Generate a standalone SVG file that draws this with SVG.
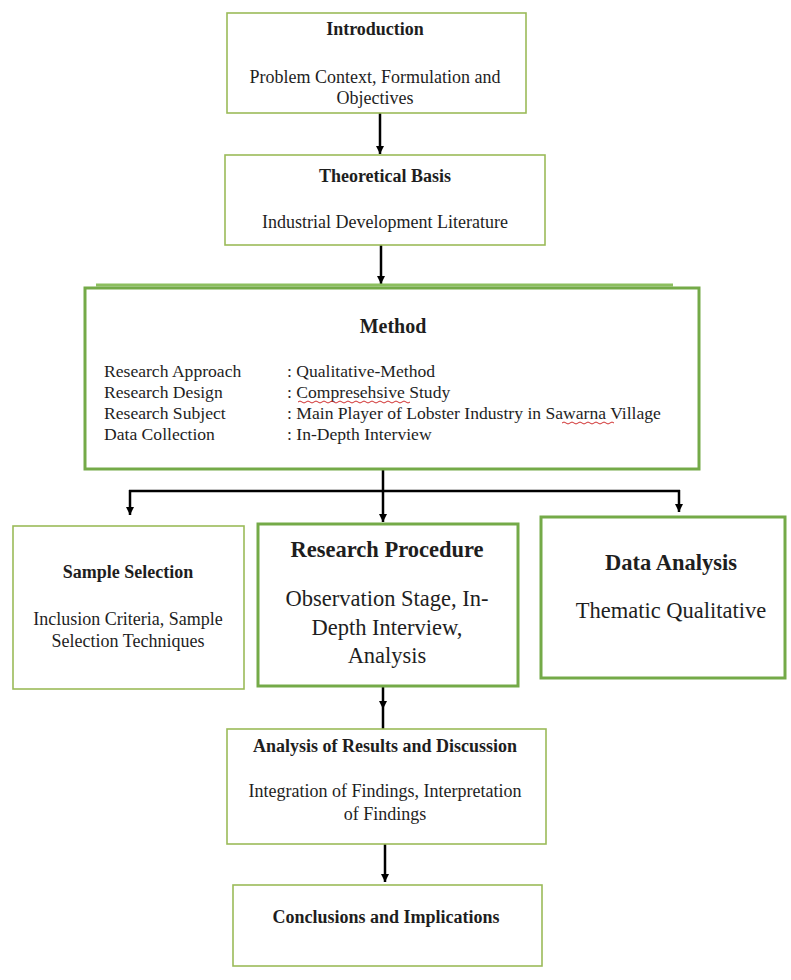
<svg xmlns="http://www.w3.org/2000/svg" width="791" height="980" viewBox="0 0 791 980">
<style>
.t{font-family:"Liberation Serif","Times New Roman",serif;fill:#1e1e1e;text-anchor:middle}
.b{font-weight:bold}
.s18{font-size:18px}
.s22{font-size:22.5px}
.row{font-family:"Liberation Serif","Times New Roman",serif;fill:#1e1e1e;font-size:17.6px}
.thin{fill:#fff;stroke:#9bbb59;stroke-width:1.6}
.thick{fill:#fff;stroke:#74aa48;stroke-width:3}
.con{fill:none;stroke:#000;stroke-width:2.5}
.sq{fill:none;stroke:#d03030;stroke-width:1}
</style>
<defs>
<marker id="ah" viewBox="0 0 10 10" refX="10" refY="5" markerUnits="userSpaceOnUse" markerWidth="8" markerHeight="9" orient="auto">
<path d="M0,0 L10,5 L0,10 z" fill="#000"/>
</marker>
</defs>
<rect width="791" height="980" fill="#fff"/>

<g id="connectors">
<line class="con" x1="380" y1="113" x2="380" y2="154" marker-end="url(#ah)"/>
<line class="con" x1="381" y1="245" x2="381" y2="284" marker-end="url(#ah)"/>
<line class="con" x1="383" y1="469" x2="383" y2="491"/>
<line class="con" x1="129" y1="491" x2="680" y2="491"/>
<line class="con" x1="130" y1="490" x2="130" y2="515" marker-end="url(#ah)"/>
<line class="con" x1="383" y1="491" x2="383" y2="522" marker-end="url(#ah)"/>
<line class="con" x1="679" y1="490" x2="679" y2="512" marker-end="url(#ah)"/>
<polyline class="con" points="383,686 383,709 383,729" marker-mid="url(#ah)"/>
<line class="con" x1="385" y1="844" x2="385" y2="882" marker-end="url(#ah)"/>
</g>

<g id="introduction">
<rect class="thin" x="227" y="13" width="299" height="100"/>
<text class="t b s18" x="375" y="35">Introduction</text>
<text class="t s18" x="375" y="83">Problem Context, Formulation and</text>
<text class="t s18" x="375" y="104">Objectives</text>
</g>

<g id="theoretical-basis">
<rect class="thin" x="225" y="155" width="320" height="90"/>
<text class="t b s18" x="385" y="182">Theoretical Basis</text>
<text class="t s18" x="385" y="228">Industrial Development Literature</text>
</g>

<g id="method">
<line x1="96" y1="285" x2="673" y2="285" stroke="#8cbf5f" stroke-width="3"/>
<rect class="thick" x="85" y="288" width="614" height="181"/>
<text class="t b" style="font-size:20px" x="393" y="333">Method</text>
<text class="row" x="104" y="377">Research Approach</text>
<text class="row" x="104" y="398">Research Design</text>
<text class="row" x="104" y="419">Research Subject</text>
<text class="row" x="104" y="440">Data Collection</text>
<text class="row" x="287" y="377">: Qualitative-Method</text>
<text class="row" x="287" y="398">: Compresehsive Study</text>
<text class="row" x="287" y="419">: Main Player of Lobster Industry in Sawarna Village</text>
<text class="row" x="287" y="440">: In-Depth Interview</text>
<path class="sq" d="M298,402 q2,-2 4,0 t4,0 t4,0 t4,0 t4,0 t4,0 t4,0 t4,0 t4,0 t4,0 t4,0 t4,0 t4,0 t4,0 t4,0 t4,0 t4,0 t4,0 t4,0 t4,0 t4,0 t4,0 t4,0 t4,0 t4,0 t4,0 t4,0 t4,0"/>
<path class="sq" d="M562,423 q2,-2 4,0 t4,0 t4,0 t4,0 t4,0 t4,0 t4,0 t4,0 t4,0 t4,0 t4,0 t4,0 t4,0"/>
</g>

<g id="sample-selection">
<rect class="thin" x="13" y="526" width="231" height="163"/>
<text class="t b s18" x="128" y="578">Sample Selection</text>
<text class="t s18" x="128" y="625">Inclusion Criteria, Sample</text>
<text class="t s18" x="128" y="647">Selection Techniques</text>
</g>

<g id="research-procedure">
<rect class="thick" x="258" y="524" width="260" height="162"/>
<text class="t b s22" x="387" y="557">Research Procedure</text>
<text class="t s22" x="387" y="606">Observation Stage, In-</text>
<text class="t s22" x="387" y="635">Depth Interview,</text>
<text class="t s22" x="387" y="663">Analysis</text>
</g>

<g id="data-analysis">
<rect class="thick" x="541" y="517" width="244" height="161"/>
<text class="t b s22" x="671" y="570">Data Analysis</text>
<text class="t s22" x="671" y="618">Thematic Qualitative</text>
</g>

<g id="analysis-results">
<rect class="thin" x="227" y="729" width="319" height="115"/>
<text class="t b s18" x="385" y="752">Analysis of Results and Discussion</text>
<text class="t s18" x="385" y="797">Integration of Findings, Interpretation</text>
<text class="t s18" x="385" y="820">of Findings</text>
</g>

<g id="conclusions">
<rect class="thin" x="233" y="885" width="309" height="81"/>
<text class="t b s18" x="386" y="923">Conclusions and Implications</text>
</g>
</svg>
